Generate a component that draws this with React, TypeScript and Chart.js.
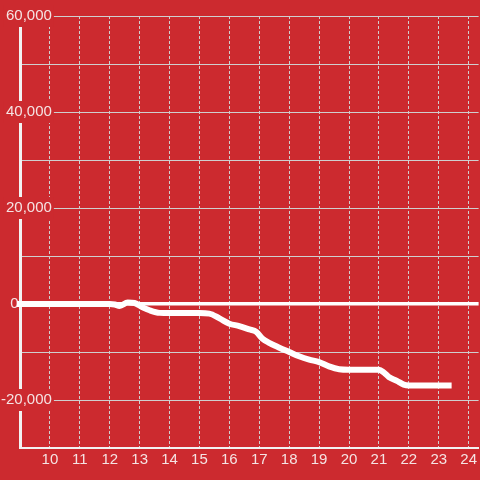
import React, { useEffect, useRef } from "react";
import { Chart, registerables } from "chart.js";

Chart.register(...registerables);

const hours = [9, 12, 12.17, 12.33, 12.6, 12.83, 13.1, 13.33, 13.67, 14, 15, 15.33, 15.67, 16, 16.33, 16.67, 16.9, 17.1, 17.33, 17.67, 18, 18.33, 18.67, 19, 19.33, 19.67, 20, 20.5, 21, 21.17, 21.33, 21.6, 21.83, 22, 23, 23.33];
const values = [0, 0, -100, -400, 300, 200, -700, -1300, -1850, -1900, -1900, -2000, -3000, -4100, -4600, -5300, -5800, -7200, -8100, -9100, -10000, -10900, -11600, -12100, -13000, -13600, -13700, -13700, -13700, -14300, -15200, -16000, -16800, -17000, -17000, -17000];
const xMin = 9;
const xMax = 24.333;
const yMin = -30000;
const yMax = 60000;
const yStep = 10000;
const yLabelStep = 20000;

const BG = "#cc2a2f";
const TEXT = "#f5e3e3";
const GRID = "#cfcfcf";
const FONT = "'Liberation Sans', Arial, sans-serif";

export default function App() {
  const ref = useRef<HTMLCanvasElement | null>(null);
  useEffect(() => {
    document.body.style.margin = "0";
    document.body.style.background = BG;
    const canvas = ref.current!;
    const chart = new Chart(canvas, {
      type: "line",
      data: {
        datasets: [
          {
            data: hours.map((h, i) => ({ x: h, y: values[i] })),
            borderColor: "#ffffff",
            borderWidth: 6,
            pointRadius: 0,
            cubicInterpolationMode: "monotone",
            borderCapStyle: "square",
            clip: false,
          } as any,
        ],
      },
      options: {
        animation: false,
        responsive: false,
        layout: { padding: { top: 16, left: 0, right: 0, bottom: 0 } },
        plugins: { legend: { display: false }, tooltip: { enabled: false } },
        scales: {
          x: {
            type: "linear",
            min: xMin,
            max: xMax,
            afterFit: (s: any) => {
              s.height = 32;
            },
            border: { display: true, color: "#f2f2f2", width: 2, dash: [3, 2] },
            grid: { drawTicks: false, color: GRID, lineWidth: 1 },
            ticks: {
              stepSize: 1,
              includeBounds: false,
              padding: 3,
              color: TEXT,
              font: { family: FONT, size: 15 },
              maxRotation: 0,
              autoSkip: false,
              callback: (v: any) => (v === xMin ? "" : String(v)),
            },
          },
          y: {
            type: "linear",
            min: yMin,
            max: yMax,
            afterFit: (s: any) => {
              s.width = 20;
            },
            border: { display: true, color: "#f2f2f2", width: 3 },
            grid: {
              drawTicks: false,
              color: (ctx: any) => (ctx.tick && ctx.tick.value === 0 ? "#ffffff" : GRID),
              lineWidth: (ctx: any) => (ctx.tick && ctx.tick.value === 0 ? 3.5 : 1),
            },
            ticks: {
              stepSize: yStep,
              mirror: true,
              crossAlign: "far",
              padding: -19,
              color: TEXT,
              font: { family: FONT, size: 15 },
              callback: (v: any) =>
                v === 0
                  ? "0        "
                  : v % yLabelStep === 0
                  ? Number(v).toLocaleString("en-US")
                  : "",
              showLabelBackdrop: (ctx: any) =>
                !!ctx.tick && ctx.tick.value !== 0 && ctx.tick.value % yLabelStep === 0,
              backdropColor: BG,
              backdropPadding: 2,
            } as any,
          },
        },
      },
    });
    return () => chart.destroy();
  }, []);
  return (
    <div style={{ width: 480, height: 480, background: BG }}>
      <canvas ref={ref} width={480} height={480} style={{ display: "block" }} />
    </div>
  );
}
